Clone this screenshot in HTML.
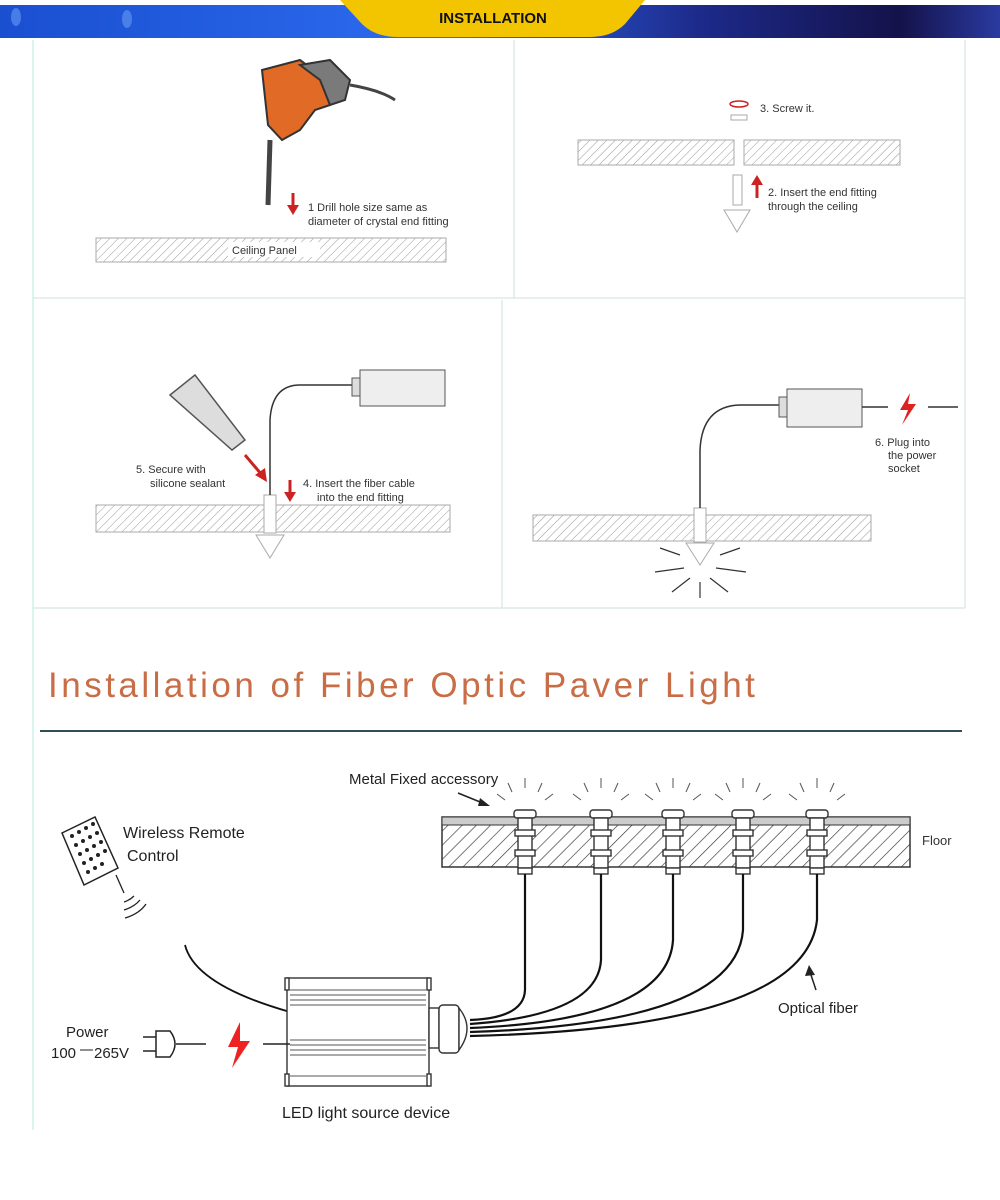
<!DOCTYPE html>
<html><head><meta charset="utf-8"><style>
body{margin:0;background:#fff;}
svg{display:block;font-family:"Liberation Sans",Arial,sans-serif;}
</style></head><body>
<svg width="1000" height="1200" viewBox="0 0 1000 1200" xmlns="http://www.w3.org/2000/svg">
<defs>
<linearGradient id="hb" x1="0" x2="1" y1="0" y2="0">
<stop offset="0" stop-color="#1a4fd0"/><stop offset="0.45" stop-color="#2d6cf0"/><stop offset="0.7" stop-color="#1d2a8a"/><stop offset="0.9" stop-color="#14124a"/><stop offset="1" stop-color="#2a3aa0"/>
</linearGradient>
<pattern id="hatch" width="6" height="6" patternUnits="userSpaceOnUse" patternTransform="rotate(45)">
<rect width="6" height="6" fill="#fff"/><line x1="0" y1="0" x2="0" y2="6" stroke="#999" stroke-width="1"/></pattern>
<pattern id="hatch2" width="10" height="10" patternUnits="userSpaceOnUse" patternTransform="rotate(45)">
<rect width="10" height="10" fill="#fff"/><line x1="0" y1="0" x2="0" y2="10" stroke="#333" stroke-width="1.3"/></pattern>
</defs>
<rect width="1000" height="1200" fill="#fff"/>
<!-- header -->
<rect x="0" y="5" width="1000" height="33" fill="url(#hb)"/>
<ellipse cx="16" cy="17" rx="5" ry="9" fill="#5d8ff0" opacity="0.7"/>
<ellipse cx="127" cy="19" rx="5" ry="9" fill="#5d8ff0" opacity="0.7"/>
<path d="M340 0 L645 0 L625 24 Q612 37 590 37 L398 37 Q375 37 362 24 Z" fill="#f2c500"/>
<text x="493" y="23" text-anchor="middle" font-size="15" font-weight="bold" fill="#111">INSTALLATION</text>
<!-- grid -->
<g stroke="#d8e4e4" stroke-width="1.2" fill="none">
<line x1="33" y1="40" x2="33" y2="1130" stroke="#bfeee6"/>
<line x1="514" y1="40" x2="514" y2="298"/>
<line x1="965" y1="40" x2="965" y2="608"/>
<line x1="33" y1="298" x2="965" y2="298"/>
<line x1="502" y1="300" x2="502" y2="608"/>
<line x1="33" y1="608" x2="965" y2="608"/>
</g>
<!-- panel 1 -->
<rect x="96" y="238" width="350" height="24" fill="url(#hatch)" stroke="#aaa"/>
<rect x="228" y="242" width="92" height="15" fill="#fff"/>
<text x="232" y="254" font-size="11" fill="#333">Ceiling Panel</text>
<path d="M262 70 L300 60 L320 75 L335 70 L345 85 L330 105 L315 110 L300 130 L282 140 L268 125 Z" fill="#e06a26" stroke="#333" stroke-width="2"/>
<path d="M300 65 L330 60 L350 80 L345 100 L330 105 L320 80 Z" fill="#7a7a7a" stroke="#333" stroke-width="2"/>
<path d="M350 85 Q380 90 395 100" stroke="#444" stroke-width="3" fill="none"/>
<line x1="270" y1="140" x2="268" y2="205" stroke="#444" stroke-width="5"/>
<line x1="293" y1="193" x2="293" y2="210" stroke="#c22" stroke-width="3"/><path d="M287 205 L299 205 L293 215 Z" fill="#c22"/>
<text x="308" y="211" font-size="11" fill="#333">1 Drill hole size same as</text>
<text x="308" y="225" font-size="11" fill="#333">diameter of crystal end fitting</text>
<!-- panel 2 -->
<rect x="578" y="140" width="156" height="25" fill="url(#hatch)" stroke="#aaa"/>
<rect x="744" y="140" width="156" height="25" fill="url(#hatch)" stroke="#aaa"/>
<ellipse cx="739" cy="104" rx="9" ry="3" fill="none" stroke="#c22" stroke-width="1.5"/>
<rect x="731" y="115" width="16" height="5" fill="none" stroke="#aaa"/>
<text x="760" y="112" font-size="11" fill="#333">3. Screw it.</text>
<rect x="733" y="175" width="9" height="30" fill="none" stroke="#aaa"/>
<path d="M724 210 L750 210 L737 232 Z" fill="none" stroke="#aaa"/>
<line x1="757" y1="198" x2="757" y2="183" stroke="#c22" stroke-width="3"/><path d="M751 185 L763 185 L757 175 Z" fill="#c22"/>
<text x="768" y="196" font-size="11" fill="#333">2. Insert the end fitting</text>
<text x="768" y="210" font-size="11" fill="#333">through the ceiling</text>
<!-- panel 3 -->
<rect x="96" y="505" width="354" height="27" fill="url(#hatch)" stroke="#aaa"/>
<rect x="264" y="495" width="12" height="38" fill="#fff" stroke="#aaa"/>
<path d="M256 535 L284 535 L270 558 Z" fill="#fff" stroke="#aaa"/>
<path d="M270 495 L270 420 Q272 385 300 385 L355 385" stroke="#333" stroke-width="1.5" fill="none"/>
<rect x="360" y="370" width="85" height="36" fill="#eee" stroke="#555"/>
<rect x="352" y="378" width="8" height="18" fill="#ddd" stroke="#555"/>
<path d="M170 395 L195 375 L245 440 L232 450 Z" fill="#ddd" stroke="#555" stroke-width="1.5"/>
<path d="M245 455 L262 475" stroke="#c22" stroke-width="3"/><path d="M255 475 L267 482 L265 468 Z" fill="#c22"/>
<line x1="290" y1="480" x2="290" y2="495" stroke="#c22" stroke-width="3"/><path d="M284 492 L296 492 L290 502 Z" fill="#c22"/>
<text x="136" y="473" font-size="11" fill="#333">5. Secure with</text>
<text x="150" y="487" font-size="11" fill="#333">silicone sealant</text>
<text x="303" y="487" font-size="11" fill="#333">4. Insert the fiber cable</text>
<text x="317" y="501" font-size="11" fill="#333">into the end fitting</text>
<!-- panel 4 -->
<rect x="533" y="515" width="338" height="26" fill="url(#hatch)" stroke="#aaa"/>
<rect x="694" y="508" width="12" height="34" fill="#fff" stroke="#aaa"/>
<path d="M686 543 L714 543 L700 565 Z" fill="#fff" stroke="#aaa"/>
<path d="M700 508 L700 450 Q702 406 740 405 L780 405" stroke="#333" stroke-width="1.5" fill="none"/>
<rect x="787" y="389" width="75" height="38" fill="#eee" stroke="#555"/>
<rect x="779" y="397" width="8" height="20" fill="#ddd" stroke="#555"/>
<line x1="862" y1="407" x2="888" y2="407" stroke="#333" stroke-width="1.5"/>
<line x1="928" y1="407" x2="958" y2="407" stroke="#333" stroke-width="1.5"/>
<path d="M910 393 L900 410 L908 410 L902 425 L916 404 L908 404 Z" fill="#d22"/>
<text x="875" y="446" font-size="11" fill="#333">6. Plug into</text>
<text x="888" y="459" font-size="11" fill="#333">the power</text>
<text x="888" y="472" font-size="11" fill="#333">socket</text>
<g stroke="#333" stroke-width="1.2">
<line x1="680" y1="555" x2="660" y2="548"/><line x1="684" y1="568" x2="655" y2="572"/><line x1="690" y1="578" x2="672" y2="592"/><line x1="700" y1="582" x2="700" y2="598"/><line x1="710" y1="578" x2="728" y2="592"/><line x1="716" y1="568" x2="746" y2="572"/><line x1="720" y1="555" x2="740" y2="548"/>
</g>
<!-- title -->
<text x="48" y="697" font-size="35" fill="#c86d46" letter-spacing="3.5">Installation of Fiber Optic Paver Light</text>
<line x1="40" y1="731" x2="962" y2="731" stroke="#2e4f55" stroke-width="2"/>
<!-- bottom diagram -->
<rect x="442" y="817" width="468" height="50" fill="url(#hatch2)" stroke="#333" stroke-width="1.5"/>
<rect x="442" y="817" width="468" height="8" fill="#ccc" stroke="#333"/>
<text x="922" y="845" font-size="13" fill="#333">Floor</text>
<text x="349" y="784" font-size="15" fill="#222">Metal Fixed accessory</text>
<path d="M458 793 L485 804" stroke="#222" stroke-width="1.5"/><path d="M480 798 L490 806 L478 806 Z" fill="#222"/>
<g fill="#fff" stroke="#333" stroke-width="1.4">
<g id="lamp"><rect x="514" y="810" width="22" height="8" rx="3"/><rect x="518" y="818" width="14" height="50"/><rect x="515" y="830" width="20" height="6"/><rect x="515" y="850" width="20" height="6"/><rect x="518" y="868" width="14" height="6"/></g>
<use href="#lamp" x="76"/><use href="#lamp" x="148"/><use href="#lamp" x="218"/><use href="#lamp" x="292"/>
</g>
<g stroke="#555" stroke-width="1" fill="none">
<path d="M505 800 l-8 -6 M512 792 l-4 -9 M525 788 v-10 M538 792 l4 -9 M545 800 l8 -6"/>
<path d="M581 800 l-8 -6 M588 792 l-4 -9 M601 788 v-10 M614 792 l4 -9 M621 800 l8 -6"/>
<path d="M653 800 l-8 -6 M660 792 l-4 -9 M673 788 v-10 M686 792 l4 -9 M693 800 l8 -6"/>
<path d="M723 800 l-8 -6 M730 792 l-4 -9 M743 788 v-10 M756 792 l4 -9 M763 800 l8 -6"/>
<path d="M797 800 l-8 -6 M804 792 l-4 -9 M817 788 v-10 M830 792 l4 -9 M837 800 l8 -6"/>
</g>
<g stroke="#111" stroke-width="2.2" fill="none">
<path d="M525 874 L525 990 Q524 1018 470 1020"/>
<path d="M601 874 L601 960 Q598 1015 470 1024"/>
<path d="M673 874 L673 940 Q668 1020 470 1028"/>
<path d="M743 874 L743 930 Q736 1024 470 1032"/>
<path d="M817 874 L817 920 Q805 1028 470 1036"/>
</g>
<text x="778" y="1013" font-size="15" fill="#222">Optical fiber</text>
<path d="M816 990 L810 972" stroke="#222" stroke-width="1.5"/><path d="M805 976 L809 965 L815 975 Z" fill="#222"/>
<!-- remote -->
<path d="M62 833 L95 817 L118 868 L84 885 Z" fill="#fff" stroke="#222" stroke-width="1.5"/>
<g fill="#222"><circle cx="72" cy="836" r="2"/><circle cx="79" cy="832" r="2"/><circle cx="86" cy="828" r="2"/><circle cx="93" cy="824" r="2"/><circle cx="76" cy="845" r="2"/><circle cx="83" cy="841" r="2"/><circle cx="90" cy="837" r="2"/><circle cx="97" cy="833" r="2"/><circle cx="80" cy="854" r="2"/><circle cx="87" cy="850" r="2"/><circle cx="94" cy="846" r="2"/><circle cx="101" cy="842" r="2"/><circle cx="84" cy="863" r="2"/><circle cx="91" cy="859" r="2"/><circle cx="98" cy="855" r="2"/><circle cx="105" cy="851" r="2"/><circle cx="88" cy="872" r="2"/><circle cx="95" cy="868" r="2"/><circle cx="102" cy="864" r="2"/></g>
<line x1="116" y1="875" x2="124" y2="893" stroke="#222" stroke-width="1.3"/>
<g stroke="#222" stroke-width="1.3" fill="none"><path d="M124 902 q6 -2 10 -6"/><path d="M124 910 q10 -3 16 -10"/><path d="M125 918 q14 -4 21 -14"/></g>
<text x="123" y="838" font-size="16" fill="#222">Wireless Remote</text>
<text x="127" y="861" font-size="16" fill="#222">Control</text>
<path d="M185 945 Q195 985 290 1012" stroke="#111" stroke-width="1.8" fill="none"/>
<!-- LED box -->
<g fill="#fff" stroke="#333" stroke-width="1.4">
<rect x="287" y="978" width="142" height="108"/>
<rect x="285" y="978" width="4" height="12"/><rect x="427" y="978" width="4" height="12"/>
<rect x="285" y="1074" width="4" height="12"/><rect x="427" y="1074" width="4" height="12"/>
<rect x="429" y="1008" width="10" height="40"/>
<rect x="439" y="1005" width="20" height="48" rx="4"/>
<path d="M459 1008 Q475 1028 459 1050 Z"/>
</g>
<g stroke="#555" stroke-width="1"><line x1="290" y1="990" x2="426" y2="990"/><line x1="290" y1="995" x2="426" y2="995"/><line x1="290" y1="1000" x2="426" y2="1000"/><line x1="290" y1="1005" x2="426" y2="1005"/><line x1="290" y1="1040" x2="426" y2="1040"/><line x1="290" y1="1045" x2="426" y2="1045"/><line x1="290" y1="1050" x2="426" y2="1050"/><line x1="290" y1="1055" x2="426" y2="1055"/><line x1="290" y1="1076" x2="426" y2="1076"/></g>
<text x="282" y="1118" font-size="16" fill="#222">LED light source device</text>
<!-- power -->
<text x="66" y="1037" font-size="15" fill="#222">Power</text>
<text x="51" y="1058" font-size="15" fill="#222">100</text>
<text x="94" y="1058" font-size="15" fill="#222">265V</text>
<line x1="80" y1="1050" x2="93" y2="1050" stroke="#222"/>
<g stroke="#222" stroke-width="1.5" fill="none">
<line x1="143" y1="1037" x2="156" y2="1037"/><line x1="143" y1="1051" x2="156" y2="1051"/>
<path d="M156 1031 L170 1031 Q180 1044 170 1057 L156 1057 Z"/>
<line x1="176" y1="1044" x2="206" y2="1044"/>
<line x1="263" y1="1044" x2="290" y2="1044"/>
</g>
<path d="M240 1022 L228 1047 L238 1047 L232 1068 L250 1041 L240 1041 Z" fill="#e22"/>
</svg>
</body></html>
